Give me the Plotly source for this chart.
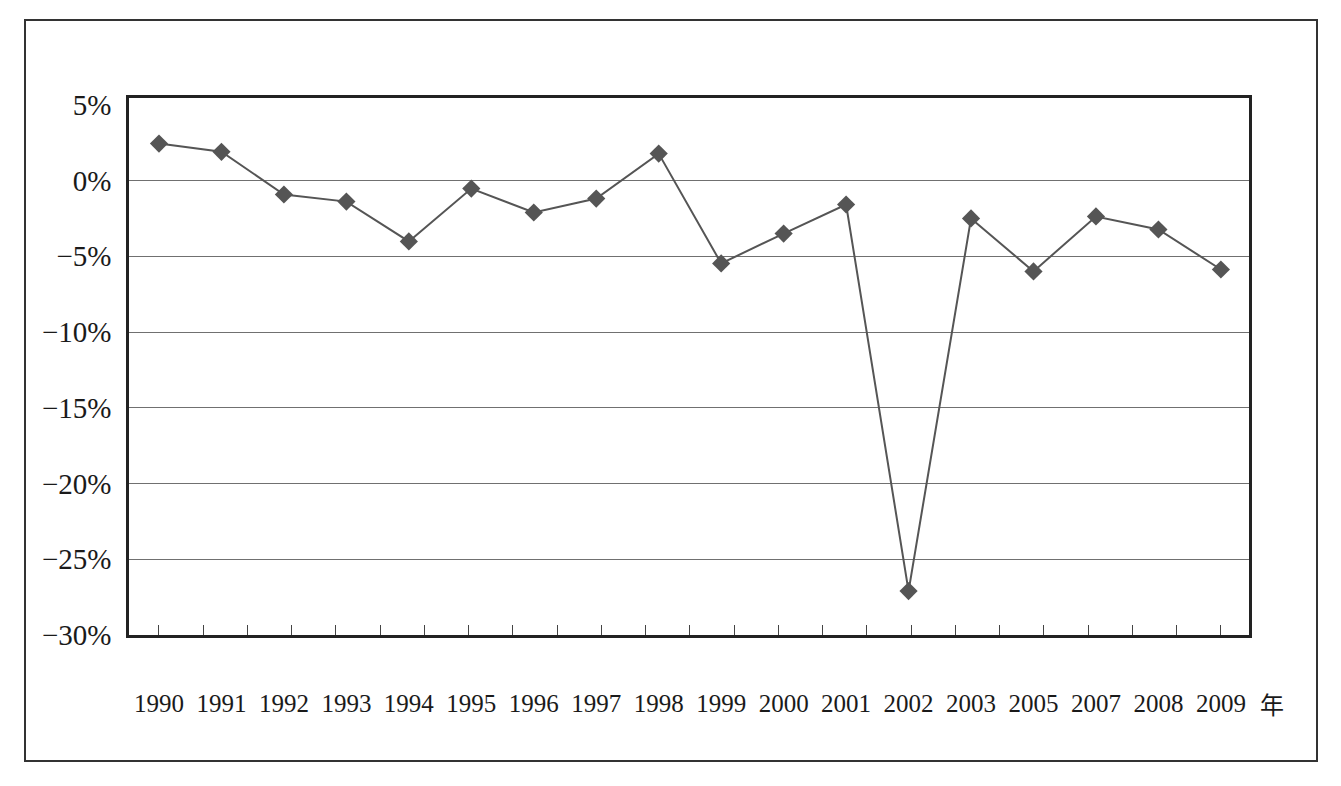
import numpy as np
import plotly.graph_objects as go

years = ["1990", "1991", "1992", "1993", "1994", "1995", "1996", "1997", "1998",
         "1999", "2000", "2001", "2002", "2003", "2005", "2007", "2008", "2009"]
values = [2.44, 1.9, -0.92, -1.39, -4.02, -0.53, -2.11, -1.19, 1.78,
          -5.47, -3.5, -1.58, -27.1, -2.5, -6.0, -2.37, -3.23, -5.87]
y_ticks = [5, 0, -5, -10, -15, -20, -25, -30]
grid_vals = [0, -5, -10, -15, -20, -25]
unit_label = "年"

y_text = [("−" if v < 0 else "") + f"{abs(v)}%" for v in y_ticks]

idx = list(range(len(years)))
n = len(years) - 1
minor_ticks = list(np.linspace(0, n, 25))

W, H = 1341, 786
L, R, T, B = 129, 92, 98, 151
pw, ph = W - L - R, H - T - B

fig = go.Figure()
fig.add_trace(go.Scatter(
    x=idx, y=values, mode="lines+markers",
    line=dict(color="#555555", width=2),
    marker=dict(symbol="diamond", size=14, color="#555555"),
    showlegend=False,
))

serif = "Liberation Serif, Times New Roman, Noto Sans CJK SC, serif"

fig.update_layout(
    width=W, height=H,
    margin=dict(l=L, r=R, t=T, b=B, pad=0),
    paper_bgcolor="white", plot_bgcolor="white",
    font=dict(family=serif, color="#1a1a1a"),
    xaxis=dict(
        range=[-0.48, n + 0.45],
        tickmode="array", tickvals=idx, ticktext=years,
        ticks="", showgrid=False, zeroline=False,
        showline=True, linecolor="#222222", linewidth=2.5, mirror=True,
        tickfont=dict(family=serif, size=25, color="#1a1a1a"),
        ticklabelstandoff=44,
        minor=dict(tickmode="array", tickvals=minor_ticks, ticks="inside",
                   ticklen=10, tickwidth=1, tickcolor="#444444", showgrid=False),
    ),
    yaxis=dict(
        range=[-30, 5.45],
        tickmode="array", tickvals=y_ticks, ticktext=y_text,
        ticks="", showgrid=False, zeroline=False,
        showline=True, linecolor="#222222", linewidth=2.5, mirror=True,
        tickfont=dict(family=serif, size=29, color="#1a1a1a"),
        ticklabelstandoff=9,
        minor=dict(tickmode="array", tickvals=grid_vals, ticks="",
                   showgrid=True, gridcolor="#707070", gridwidth=1.2),
    ),
    shapes=[dict(
        type="rect", xref="paper", yref="paper",
        x0=(25 - L) / pw, x1=(1317 - L) / pw,
        y0=(H - B - 761) / ph, y1=(H - B - 20) / ph,
        line=dict(color="#333333", width=2),
        fillcolor="rgba(0,0,0,0)", layer="below",
    )],
    annotations=[dict(
        text=unit_label, xref="paper", yref="paper",
        x=(1272 - L) / pw, y=(H - B - 703) / ph,
        xanchor="center", yanchor="middle", showarrow=False,
        font=dict(family="Noto Sans CJK SC, serif", size=24, color="#1a1a1a"),
    )],
)

fig.write_html("out.html")
